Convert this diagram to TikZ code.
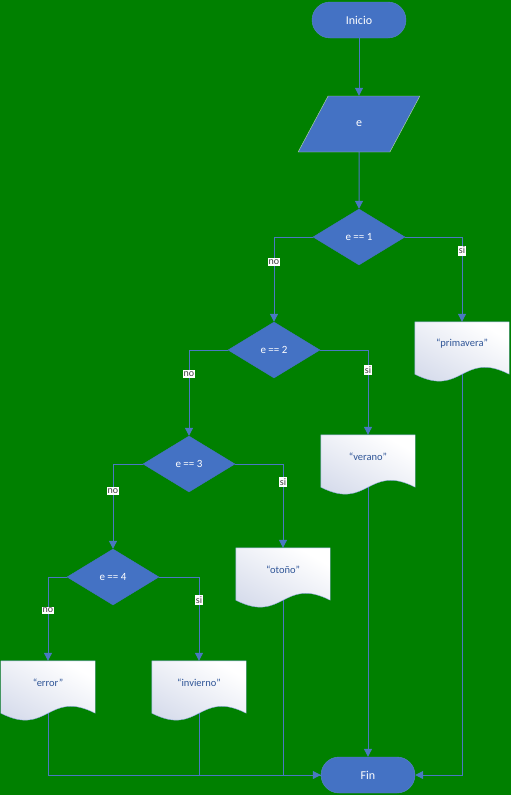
\documentclass[tikz,border=0pt]{standalone}
\usepackage{fontspec}
\setmainfont{Carlito}
\usetikzlibrary{arrows.meta,shapes.geometric,backgrounds}
\definecolor{field}{HTML}{008000}
\definecolor{office}{HTML}{4472C4}
\definecolor{officeline}{HTML}{5B84CC}
\definecolor{mint}{HTML}{B9DCA8}
\definecolor{docline}{HTML}{8EA9DB}
\definecolor{docshade}{HTML}{D3D9EA}
\definecolor{docink}{HTML}{2F5597}
\definecolor{link}{HTML}{4A78C2}
\tikzset{
  term/.style={draw=officeline,fill=office,rounded corners=18pt,minimum width=94pt,minimum height=36pt,
    text=white,font=\fontsize{12}{14}\selectfont},
  inbox/.style={trapezium,trapezium left angle=64,trapezium right angle=116,trapezium stretches=true,
    draw=mint,fill=office,minimum width=122pt,minimum height=56pt,text=white,font=\fontsize{12}{14}\selectfont},
  test/.style={diamond,draw=office,fill=office,minimum width=92pt,minimum height=56pt,inner sep=0pt,
    text=white,font=\fontsize{11}{13}\selectfont},
  doc/.style={rectangle,minimum width=94pt,minimum height=44pt,inner sep=0pt,text=docink,
    font=\fontsize{10.5}{12}\selectfont},
  docpath/.style={draw=docline,top color=white,bottom color=docshade,shading angle=-30},
  flow/.style={-{Triangle[length=8pt,width=8pt]},link,line width=1pt},
  plain/.style={link,line width=1pt},
  lbl/.style={fill=white,text=black!75,font=\fontsize{10}{11}\selectfont,inner xsep=1pt,inner ysep=1.5pt},
}

\begin{document}
\begin{tikzpicture}[x=1pt,y=-1pt]
  \useasboundingbox (0,0) rectangle (511,795);
  \node[term] (ini) at (359,20) {Inicio};
  \node[inbox] (inp) at (359,124) {e};
  \node[test] (d1) at (359,237) {e == 1};
  \node[test] (d2) at (274,350) {e == 2};
  \node[test] (d3) at (189,464) {e == 3};
  \node[test] (d4) at (113,577) {e == 4};
  \node[doc] (prim) at (462,344) {“primavera”};
  \node[doc] (ver) at (368,457) {“verano”};
  \node[doc] (oto) at (283,570) {“otoño”};
  \node[doc] (err) at (48,683) {“error”};
  \node[doc] (inv) at (199,683) {“invierno”};
  \node[term] (fin) at (368,775) {Fin};
  \begin{scope}[on background layer]
    \fill[field] (0,0) rectangle (511,795);
    \foreach \a/\b in {ini/inp,inp/d1}
      \draw[flow] (\a) -- (\b);
    \draw[flow] (d1.west) -| node[lbl,pos=0.65]{no} (d2.north);
    \draw[flow] (d1.east) -| node[lbl,pos=0.58]{si} (prim.north);
    \draw[flow] (d2.west) -| node[lbl,pos=0.64]{no} (d3.north);
    \draw[flow] (d2.east) -| node[lbl,pos=0.62]{si} (ver.north);
    \draw[flow] (d3.west) -| node[lbl,pos=0.66]{no} (d4.north);
    \draw[flow] (d3.east) -| node[lbl,pos=0.61]{si} (oto.north);
    \draw[flow] (d4.west) -| node[lbl,pos=0.70]{no} (err.north);
    \draw[flow] (d4.east) -| node[lbl,pos=0.64]{si} (inv.north);
    % salidas hacia Fin
    \draw[flow] (err.south) |- (fin.west);
    \draw[plain] (inv.south) |- (fin.west);
    \draw[plain] (oto.south) |- (fin.west);
    \draw[flow] (ver.south) -- (fin.north);
    \draw[flow] (prim.south) |- (fin.east);
    \foreach \d in {prim,ver,oto,err,inv}
      \draw[docpath] (\d.north west) -- (\d.north east) -- ([yshift=-8pt]\d.south east)
        .. controls ([yshift=16pt]\d.south) and ([yshift=-32pt]\d.south) .. ([yshift=-8pt]\d.south west) -- cycle;
  \end{scope}
\end{tikzpicture}
\end{document}
